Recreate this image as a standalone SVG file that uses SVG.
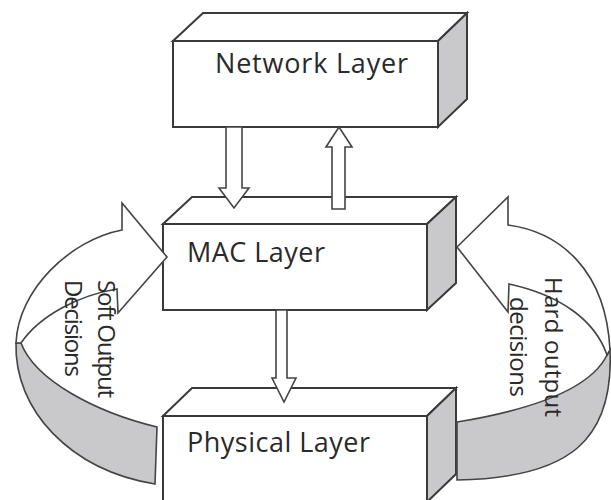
<svg xmlns="http://www.w3.org/2000/svg" width="611" height="500" viewBox="0 0 611 500">
<style>
.edge{stroke:#3a3a3a;stroke-width:2;stroke-linejoin:miter}
.front{fill:#ffffff}
.top{fill:#ffffff}
.side{fill:#c9c9cb}
.arr{fill:#ffffff;stroke:#444;stroke-width:1.6;stroke-linejoin:miter}
.band{fill:#c9c9cb;stroke:#444;stroke-width:1.6}
.lbl{font-family:"Open Sans","DejaVu Sans",sans-serif;font-size:27px;fill:#2a2a2a}
.rlbl{font-family:"Open Sans","DejaVu Sans",sans-serif;font-size:24px;fill:#2a2a2a}
</style>
<rect width="611" height="500" fill="#ffffff"/>
<g id="network">
<polygon class="edge top" points="173,41 203,13 467,13 438,41"/>
<polygon class="edge side" points="438,41 467,13 467,99 438,127"/>
<rect class="edge front" x="173" y="41" width="265" height="86"/>
<text class="lbl" x="215" y="73" textLength="193">Network Layer</text>
</g>
<g id="mac">
<polygon class="edge top" points="163,224 192,197 456,197 427,224"/>
<polygon class="edge side" points="427,224 456,197 456,283 427,310"/>
<rect class="edge front" x="163" y="224" width="264" height="86"/>
<text class="lbl" x="187" y="262" textLength="138">MAC Layer</text>
</g>
<g id="physical">
<polygon class="edge top" points="163,416 192,388 456,388 427,416"/>
<polygon class="edge side" points="427,416 456,388 456,474 427,502"/>
<rect class="edge front" x="163" y="416" width="264" height="90"/>
<text class="lbl" x="187" y="452" textLength="183">Physical Layer</text>
</g>
<g id="connectors">
<polygon class="arr" points="226,127 242,127 242,188 249,188 234,208 219,188 226,188"/>
<polygon class="arr" points="332,209 345,209 345,147 352,147 339,127 326,147 332,147"/>
<polygon class="arr" points="276,310 287,310 287,378 296,378 284,402 272,378 276,378"/>
<g id="soft-loop">
<path class="band" d="M16,343 C14,410 70,470 155,484 L157,427 C95,412 35,380 21,343 Z"/>
<path class="arr" d="M122,230 C70,240 18,290 16,343 L21,343 C40,315 80,295 117,289 L118,313 L167,257 L122,203 Z"/>
<text class="rlbl" transform="translate(98,280) rotate(90)" textLength="118">Soft Output</text>
<text class="rlbl" transform="translate(65,280) rotate(90)" textLength="97">Decisions</text>
</g>
<g id="hard-loop">
<path class="band" d="M610,350 C614,440 570,478 457,480 L457,422 C530,410 590,390 607,355 Z"/>
<path class="arr" d="M508,225 C560,232 606,270 610,350 L607,355 C595,320 560,295 509,284 L508,312 L457,247 L508,197 Z"/>
<text class="rlbl" transform="translate(545,347) rotate(90)" text-anchor="middle" textLength="140">Hard output</text>
<text class="rlbl" transform="translate(510,347) rotate(90)" text-anchor="middle" textLength="100">decisions</text>
</g>
</g>
</svg>
